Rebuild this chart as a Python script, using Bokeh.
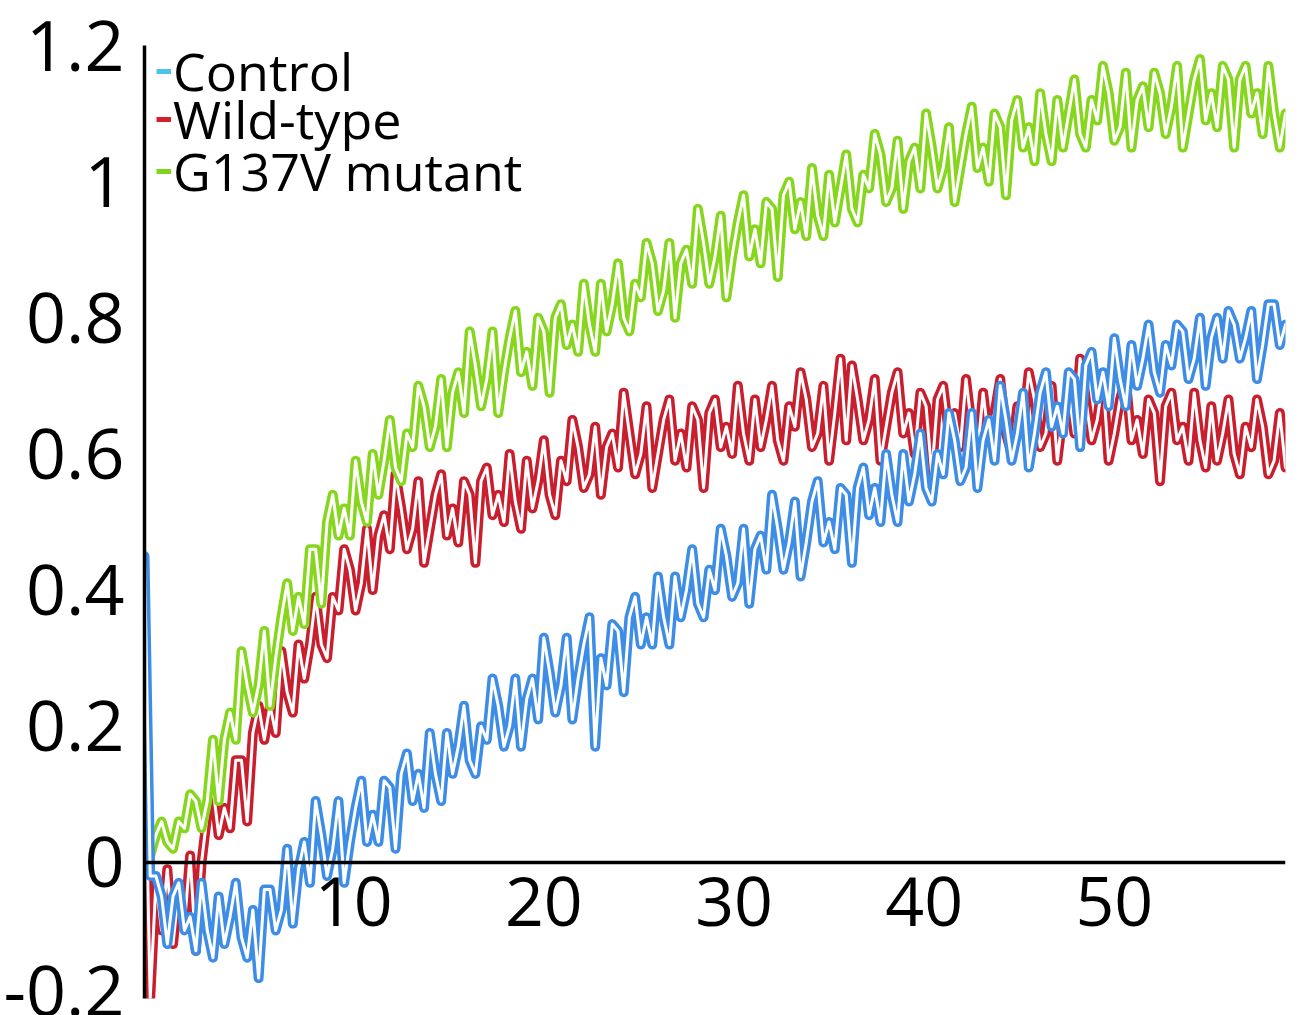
import numpy as np
from bokeh.plotting import figure
from bokeh.models import Range1d, FixedTicker, Legend, LegendItem, ColumnDataSource
from bokeh.embed import file_html
from bokeh.resources import INLINE

# sampling grid: first sample at -1.0 s, one sample every 0.3 s
t_start = -1.0
t_step = 0.3

control = [
    0.45, -0.02,
    -0.02, -0.05, -0.12, -0.05, -0.03, -0.10, -0.08, -0.13, -0.03, -0.10,
    -0.14, -0.05, -0.12, -0.08, -0.03, -0.11, -0.14, -0.07, -0.17, -0.04,
    -0.04, -0.10, -0.07, 0.02, -0.09, -0.01, 0.03, -0.03, 0.09, 0.04,
    -0.02, 0.02, 0.09, -0.03, 0.03, 0.08, 0.12, 0.03, 0.07, 0.03,
    0.12, 0.11, 0.02, 0.13, 0.16, 0.09, 0.13, 0.08, 0.19, 0.13,
    0.09, 0.19, 0.13, 0.17, 0.23, 0.15, 0.13, 0.20, 0.18, 0.27,
    0.23, 0.17, 0.20, 0.27, 0.17, 0.24, 0.27, 0.21, 0.33, 0.28,
    0.22, 0.26, 0.33, 0.21, 0.27, 0.32, 0.36, 0.17, 0.30, 0.26,
    0.35, 0.34, 0.25, 0.36, 0.39, 0.32, 0.36, 0.32, 0.42, 0.36,
    0.32, 0.42, 0.36, 0.40, 0.46, 0.38, 0.36, 0.43, 0.40, 0.49,
    0.45, 0.39, 0.41, 0.49, 0.38, 0.46, 0.48, 0.43, 0.54, 0.49,
    0.43, 0.47, 0.53, 0.42, 0.47, 0.53, 0.56, 0.47, 0.50, 0.46,
    0.55, 0.54, 0.44, 0.55, 0.58, 0.51, 0.55, 0.50, 0.60, 0.54,
    0.50, 0.60, 0.53, 0.57, 0.63, 0.55, 0.53, 0.60, 0.57, 0.66,
    0.62, 0.56, 0.58, 0.66, 0.55, 0.62, 0.65, 0.59, 0.70, 0.65,
    0.59, 0.63, 0.69, 0.58, 0.63, 0.69, 0.72, 0.64, 0.67, 0.63,
    0.72, 0.71, 0.61, 0.73, 0.75, 0.68, 0.72, 0.67, 0.77, 0.71,
    0.67, 0.76, 0.70, 0.74, 0.79, 0.72, 0.69, 0.76, 0.73, 0.79,
    0.78, 0.71, 0.74, 0.80, 0.70, 0.77, 0.80, 0.74, 0.81, 0.79,
    0.74, 0.77, 0.81, 0.71, 0.76, 0.82, 0.82, 0.76, 0.79,
]

wild_type = [
    0.20, -0.20, -0.03, -0.10, -0.01, -0.12, -0.04, -0.09, 0.01, -0.13,
    0.00, 0.07, 0.11, 0.04, 0.08, 0.05, 0.15, 0.15, 0.06, 0.19,
    0.23, 0.18, 0.23, 0.19, 0.31, 0.25, 0.22, 0.32, 0.27, 0.32,
    0.39, 0.32, 0.30, 0.39, 0.37, 0.46, 0.43, 0.37, 0.41, 0.49,
    0.40, 0.48, 0.51, 0.46, 0.57, 0.52, 0.46, 0.49, 0.56, 0.44,
    0.49, 0.54, 0.57, 0.48, 0.52, 0.47, 0.56, 0.54, 0.44, 0.56,
    0.58, 0.51, 0.54, 0.50, 0.60, 0.53, 0.49, 0.59, 0.52, 0.56,
    0.62, 0.54, 0.51, 0.59, 0.56, 0.65, 0.61, 0.55, 0.57, 0.64,
    0.54, 0.61, 0.63, 0.58, 0.69, 0.63, 0.57, 0.60, 0.67, 0.55,
    0.60, 0.65, 0.68, 0.59, 0.63, 0.58, 0.67, 0.65, 0.55, 0.66,
    0.68, 0.61, 0.64, 0.60, 0.70, 0.63, 0.59, 0.68, 0.61, 0.65,
    0.70, 0.62, 0.59, 0.67, 0.64, 0.72, 0.68, 0.61, 0.63, 0.70,
    0.59, 0.66, 0.74, 0.62, 0.73, 0.68, 0.62, 0.65, 0.71, 0.59,
    0.64, 0.69, 0.72, 0.63, 0.66, 0.60, 0.69, 0.67, 0.57, 0.68,
    0.70, 0.63, 0.66, 0.61, 0.71, 0.64, 0.60, 0.69, 0.62, 0.66,
    0.71, 0.63, 0.60, 0.67, 0.64, 0.72, 0.68, 0.61, 0.63, 0.70,
    0.59, 0.66, 0.69, 0.63, 0.74, 0.68, 0.62, 0.65, 0.71, 0.59,
    0.63, 0.68, 0.71, 0.62, 0.65, 0.60, 0.68, 0.66, 0.56, 0.67,
    0.69, 0.62, 0.64, 0.59, 0.69, 0.62, 0.58, 0.67, 0.59, 0.63,
    0.68, 0.60, 0.57, 0.64, 0.61, 0.68, 0.64, 0.57, 0.59, 0.66,
    0.58,
]

g137v_mutant = [
    0.05, 0.01, 0.04, 0.06, 0.03, 0.02, 0.06, 0.05, 0.10, 0.09,
    0.05, 0.09, 0.18, 0.09, 0.18, 0.22, 0.18, 0.31, 0.26, 0.22,
    0.26, 0.34, 0.23, 0.30, 0.36, 0.41, 0.34, 0.39, 0.35, 0.46,
    0.46, 0.38, 0.50, 0.54, 0.48, 0.52, 0.48, 0.59, 0.53, 0.50,
    0.60, 0.54, 0.59, 0.65, 0.58, 0.56, 0.63, 0.61, 0.70, 0.67,
    0.61, 0.64, 0.71, 0.61, 0.69, 0.72, 0.66, 0.78, 0.73, 0.67,
    0.71, 0.78, 0.66, 0.72, 0.77, 0.81, 0.72, 0.75, 0.70, 0.80,
    0.78, 0.69, 0.80, 0.82, 0.76, 0.79, 0.75, 0.85, 0.79, 0.75,
    0.85, 0.78, 0.82, 0.88, 0.80, 0.78, 0.85, 0.83, 0.91, 0.88,
    0.81, 0.84, 0.91, 0.80, 0.88, 0.90, 0.85, 0.96, 0.91, 0.85,
    0.89, 0.95, 0.83, 0.89, 0.94, 0.98, 0.89, 0.93, 0.88, 0.97,
    0.96, 0.86, 0.98, 1.00, 0.93, 0.97, 0.92, 1.02, 0.95, 0.92,
    1.01, 0.94, 0.99, 1.04, 0.96, 0.94, 1.01, 0.99, 1.07, 1.04,
    0.97, 0.99, 1.06, 0.96, 1.03, 1.05, 0.99, 1.10, 1.05, 0.99,
    1.02, 1.08, 0.97, 1.02, 1.07, 1.11, 1.02, 1.05, 1.00, 1.10,
    1.08, 0.98, 1.09, 1.12, 1.05, 1.08, 1.03, 1.13, 1.07, 1.03,
    1.12, 1.05, 1.10, 1.15, 1.07, 1.05, 1.12, 1.09, 1.17, 1.13,
    1.06, 1.08, 1.16, 1.05, 1.12, 1.14, 1.08, 1.16, 1.13, 1.07,
    1.11, 1.17, 1.05, 1.10, 1.15, 1.18, 1.09, 1.13, 1.08, 1.17,
    1.15, 1.05, 1.15, 1.17, 1.10, 1.13, 1.07, 1.17, 1.10, 1.05,
    1.10,
]

series_names = ["Control", "Wild-type", "G137V mutant"]
line_colors = ["#3d8ce6", "#c91e2d", "#86d61e"]
legend_colors = ["#4cc3ee", "#d3202e", "#80d41c"]
y_ticks = [-0.2, 0, 0.2, 0.4, 0.6, 0.8, 1, 1.2]
y_tick_labels = ["-0.2", "0", "0.2", "0.4", "0.6", "0.8", "1", "1.2"]
x_ticks = [10, 20, 30, 40, 50]

n = len(control)
t = t_start + t_step * np.arange(n)

p = figure(width=1290, height=1015, output_backend="svg", toolbar_location=None,
           x_range=Range1d(-1.0, 59.0), y_range=Range1d(-0.2, 1.2),
           min_border_left=137, min_border_right=5, min_border_top=45,
           min_border_bottom=17)
p.outline_line_color = None
p.grid.visible = False
p.background_fill_color = "white"

src = ColumnDataSource(dict(t=t, control=control, wt=wild_type, mut=g137v_mutant))
# each trace is drawn as an outlined (hollow) ribbon; order: wild-type, mutant, control
for col, c in (("wt", line_colors[1]), ("mut", line_colors[2]), ("control", line_colors[0])):
    p.line("t", col, source=src, line_color=c, line_width=10, line_join="round", line_cap="round")
    p.line("t", col, source=src, line_color="white", line_width=3, line_join="round", line_cap="round")

# x axis located at y = 0
xa = p.xaxis[0]
xa.fixed_location = 0
xa.ticker = FixedTicker(ticks=x_ticks)
xa.axis_line_width = 3.5
xa.axis_line_color = "black"
xa.major_tick_line_color = None
xa.minor_tick_line_color = None
xa.major_label_text_font = "Open Sans"
xa.major_label_text_font_size = "68px"
xa.major_label_text_color = "black"
xa.major_label_standoff = 9

ya = p.yaxis[0]
ya.ticker = FixedTicker(ticks=y_ticks)
ya.major_label_overrides = {v: s for v, s in zip(y_ticks, y_tick_labels)}
ya.axis_line_width = 3.5
ya.axis_line_color = "black"
ya.major_tick_line_color = None
ya.minor_tick_line_color = None
ya.major_label_text_font = "Open Sans"
ya.major_label_text_font_size = "70px"
ya.major_label_text_color = "black"
ya.major_label_standoff = 14

# legend entries (short coloured dashes); the keys sit outside the visible ranges
legend_rows_bottom = [892, 844, 792]
for nm, c, vy in zip(series_names, legend_colors, legend_rows_bottom):
    key = p.line([-50, -49], [-5, -5], line_color=c, line_width=5)
    lg = Legend(items=[LegendItem(label=nm, renderers=[key])],
                location=(12, vy), background_fill_alpha=0, border_line_color=None,
                label_text_font="Open Sans", label_text_font_size="52px",
                label_text_color="black", glyph_width=15, glyph_height=20,
                label_standoff=2, padding=0, margin=0, spacing=0)
    p.add_layout(lg)

open("out.html", "w").write(file_html(p, INLINE))
